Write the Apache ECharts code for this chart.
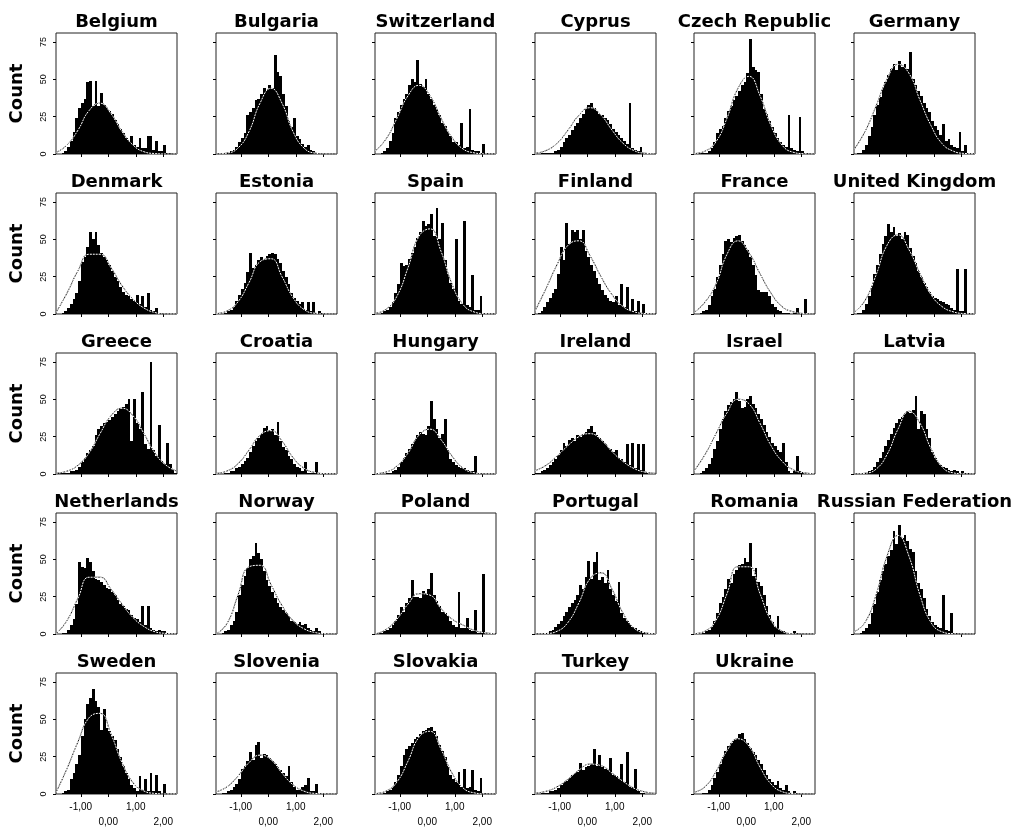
<!DOCTYPE html>
<html><head><meta charset="utf-8">
<script src="https://cdn.jsdelivr.net/npm/echarts@6/dist/echarts.min.js"></script>
<style>html,body{margin:0;padding:0;background:#fff}#c{width:1026px;height:833px}</style>
</head><body><div id="c"></div>
<script>
// Panel titles, in reading order (6 per row)
const countries = ['Belgium','Bulgaria','Switzerland','Cyprus','Czech Republic','Germany',
  'Denmark','Estonia','Spain','Finland','France','United Kingdom',
  'Greece','Croatia','Hungary','Ireland','Israel','Latvia',
  'Netherlands','Norway','Poland','Portugal','Romania','Russian Federation',
  'Sweden','Slovenia','Slovakia','Turkey','Ukraine'];

// Histogram bins: lower edge of first bin and bin width (value units)
const binStart = -1.9;
const binWidth = 0.1;
const xMin = -1.9, xMax = 2.5;
const yMax = 81;
const xTicks = [-1, 0, 1, 2];
const yTicks = [0, 25, 50, 75];

// Counts per bin (44 bins from -1.9 to 2.5)
const belgium = [0,0,1,2,5,9,15,24,31,34, 37,48,49,32,49,32,41,33,31,29, 27,23,20,17,14,11,9,12,6,5, 11,4,4,12,12,3,9,2,2,6, 1,1,0,0];
const bulgaria = [0,0,0,1,1,2,3,5,8,11, 14,26,28,31,36,37,40,44,43,46, 44,66,55,52,40,32,22,18,24,12, 10,7,5,6,3,2,1,1,0,0, 0,0,0,0];
const switzerland = [0,0,1,2,4,9,14,24,28,33, 37,40,46,50,48,63,47,45,50,40, 37,33,30,26,21,19,15,12,8,8, 6,21,4,5,30,3,2,2,1,7, 1,0,0,0];
const cyprus = [0,0,1,1,1,1,1,2,3,5, 8,11,13,16,19,21,24,27,30,33, 34,31,29,27,26,24,23,20,17,15, 13,11,9,7,34,4,3,2,5,1, 1,0,0,0];
const czechRepublic = [0,1,1,1,1,2,4,8,14,17, 19,24,29,32,36,39,42,46,48,54, 77,58,56,55,40,30,27,22,18,14, 11,8,6,5,26,4,3,2,25,2, 1,1,0,0];
const germany = [0,1,1,3,6,12,18,26,33,38, 44,48,53,57,60,56,62,58,60,57, 68,50,46,42,39,34,31,28,22,19, 16,13,20,9,10,6,5,4,15,2, 6,1,0,0];
const denmark = [0,0,1,2,4,7,10,14,22,35, 38,45,55,50,55,46,41,38,36,33, 29,25,22,18,15,13,12,10,9,13, 7,12,5,14,3,2,4,1,1,0, 0,0,0,0];
const estonia = [0,0,0,1,2,3,5,9,13,17, 21,28,41,31,33,36,38,36,39,40, 41,40,37,34,29,25,20,14,11,9, 7,8,3,8,2,8,1,2,1,0, 0,0,0,0];
const spain = [0,0,1,2,3,5,8,14,20,34, 32,33,37,41,45,51,55,62,59,60, 67,52,71,50,61,36,27,21,17,50, 9,7,62,6,5,26,3,3,12,1, 0,0,0,0];
const finland = [0,1,2,5,8,11,14,17,27,45, 36,61,47,56,55,56,50,56,42,38, 33,29,24,20,16,13,11,9,8,12, 6,20,5,18,3,10,2,9,1,7, 0,0,0,0];
const france = [0,0,1,2,3,6,12,17,25,33, 40,49,50,48,51,52,53,49,46,43, 38,33,26,16,15,15,15,12,7,5, 3,2,1,1,1,0,1,4,1,0, 10,0,0,0];
const unitedKingdom = [0,1,1,3,7,12,19,27,33,40, 47,52,60,55,58,52,54,50,55,53, 44,39,34,29,25,21,18,15,12,11, 10,9,8,7,6,4,3,30,2,2, 30,1,0,0];
const greece = [1,1,1,1,1,2,2,3,5,8, 11,14,16,19,26,30,32,34,35,36, 38,40,42,44,45,47,50,22,50,34, 30,55,20,17,75,16,12,33,9,7, 21,7,3,1];
const croatia = [0,0,0,1,1,2,2,4,5,7, 9,11,15,19,22,24,27,31,32,29, 30,26,35,22,18,16,12,10,7,5, 4,2,8,1,1,1,8,0,1,0, 0,0,0,0];
const hungary = [0,0,0,0,1,1,2,3,5,8, 11,14,17,20,23,26,28,27,26,32, 49,37,30,24,27,37,16,10,8,6, 5,4,4,3,2,2,12,1,1,0, 0,0,0,0];
const ireland = [1,1,2,3,4,6,8,10,13,16, 21,19,23,24,22,26,25,27,28,30, 32,28,26,24,22,20,18,17,15,16, 11,10,8,20,6,21,4,20,3,20, 1,0,0,0];
const israel = [0,0,1,2,4,7,11,17,22,30, 37,42,46,48,50,55,49,44,45,50, 52,47,44,40,37,33,28,25,21,19, 16,15,21,8,2,1,2,12,2,1, 0,0,0,0];
const latvia = [0,0,0,1,1,2,3,5,8,11, 15,19,23,27,31,34,37,38,40,42, 41,43,52,30,42,40,30,24,15,11, 8,6,5,4,3,2,3,2,1,2, 1,1,0,0];
const netherlands = [0,0,1,1,3,6,10,20,48,45, 44,51,48,42,37,36,35,33,31,30, 28,26,23,20,19,17,16,13,11,10, 8,19,6,19,4,3,2,3,2,2, 1,0,0,0];
const norway = [0,0,1,2,3,6,9,15,26,33, 39,44,50,52,61,54,50,42,36,32, 28,24,21,18,16,14,12,9,8,7, 8,6,7,4,3,2,4,2,1,0, 0,0,0,0];
const poland = [0,1,1,2,3,4,6,9,13,18, 15,21,24,36,25,25,24,29,27,30, 41,26,22,19,15,14,12,9,6,5, 28,4,4,11,3,2,16,1,1,40, 0,0,0,0];
const portugal = [0,0,0,1,1,2,3,5,7,9, 12,15,18,21,23,26,33,30,38,49, 37,48,55,36,38,34,43,30,26,22, 35,14,11,9,7,5,4,3,2,1, 1,0,0,0];
const romania = [0,0,0,1,2,3,5,9,14,21, 25,30,37,34,40,43,46,47,51,48, 61,39,44,35,32,26,19,13,8,5, 12,3,2,1,1,1,2,1,0,0, 0,0,0,0];
const russianFederation = [0,0,1,2,4,7,14,20,28,36, 42,47,52,56,69,60,73,64,66,62, 57,55,42,34,30,24,17,12,8,6, 5,4,26,3,2,14,1,1,0,0, 0,0,0,0];
const sweden = [0,0,1,2,3,10,14,20,26,39, 50,60,64,70,62,58,43,57,44,42, 39,36,30,25,19,14,10,6,4,2, 12,3,10,2,14,2,13,2,1,7, 0,0,0,0];
const slovenia = [0,0,1,1,2,3,5,7,10,17, 19,22,28,23,33,35,24,27,26,24, 22,20,18,16,14,12,19,8,5,3, 3,5,6,11,2,2,7,1,1,0, 0,0,0,0];
const slovakia = [0,0,0,1,2,3,5,8,13,19, 26,30,32,34,37,38,40,42,43,44, 45,42,39,33,29,25,19,13,10,8, 15,5,17,4,5,16,3,2,11,1, 1,0,0,0];
const turkey = [0,0,1,1,1,2,2,3,4,6, 8,9,11,13,14,15,21,16,18,19, 20,30,19,26,18,17,16,24,13,12, 10,20,8,28,5,4,17,2,1,1, 0,0,0,0];
const ukraine = [0,0,0,1,1,3,6,11,15,20, 25,29,32,34,36,37,40,41,37,34, 31,28,26,23,20,16,13,10,8,6, 9,4,3,6,2,1,2,1,0,0, 0,0,0,0];

// Normal curve overlay, read at these x positions
const curveX = [-1.9,-1.5,-1.1,-0.7,-0.3,0.1,0.5,0.9,1.3,1.7,2.1,2.5];
const curveBelgium = [1,6,16,29,34,27,15,6,1.5,0.3,0,0];
const curveBulgaria = [0,0.6,4,15,34,44,34,15,4,0.6,0,0];
const curveSwitzerland = [2,10,24,39,46,39,24,11,3.4,0.8,0.1,0];
const curveCyprus = [0.5,2.3,7.2,16,26,31,26,16,7.2,2.3,0.5,0.1];
const curveCzechRepublic = [0.3,1.9,8.2,24,44,52,39,19,6,1.2,0.2,0];
const curveGermany = [3,15,32,50,60,54,36,19,7,2,0.4,0.1];
const curveDenmark = [1,14,29,40,40,31,19,10,4,1,0,0];
const curveEstonia = [0.3,2,8.2,21,35,37,25,11,3,0.5,0,0];
const curveSpain = [0.5,3.1,12,31,52,57,42,20,6.4,1.4,0.2,0];
const curveFinland = [2,17,33,46,49,39,25,13,5,1.5,0.3,0];
const curveFrance = [1,8,20,40,49,41,27,14,5,1.5,0.3,0];
const curveUnitedKingdom = [1,9,26,46,53,43,27,13,5,1.5,0.3,0];
const curveGreece = [0.5,1.9,5.9,14,27,39,44,39,27,14,5.9,1.9];
const curveCroatia = [0.4,2,6.9,16,26,29,22,11,3.9,1,0.2,0];
const curveHungary = [0.2,1.3,5.4,14,26,30,23,12,3.9,0.9,0.1,0];
const curveIreland = [2.2,5.8,12,19,25,27,23,15,8.4,3.7,1.3,0.4];
const curveIsrael = [2,13,27,41,50,47,34,19,8.6,2.9,0.8,0.2];
const curveLatvia = [0,0.5,3.2,13,30,42,34,17,4.8,0.8,0.1,0];
const curveNetherlands = [0,9,24,38,38,30,20,11,5,1.5,0.4,0];
const curveNorway = [0,7,26,45,46,33,19,9,3.5,1,0.2,0];
const curvePoland = [0,3,10,20,27,26,17,10,6,2.5,0.8,0.2];
const curvePortugal = [0,0.3,1.8,7.8,21,37,41,30,14,4,0.8,0.1];
const curveRomania = [0.2,1.9,9.2,27,45,45,27,9.2,1.9,0.2,0,0];
const curveRussianFederation = [1.5,7.7,26,52,66,52,26,7.7,1.5,0.2,0,0];
const curveSweden = [1,17,35,51,54,40,21,7.6,2,0.4,0,0];
const curveSlovenia = [1.4,4.8,12,21,26,23,14,6.2,1.9,0.4,0.1,0];
const curveSlovakia = [0.3,1.9,8.1,22,38,42,30,14,4.1,0.8,0.1,0];
const curveTurkey = [0.5,1.8,4.8,9.9,16,20,19,14,8.5,3.9,1.4,0.4];
const curveUkraine = [1.1,4.8,15,29,37,32,18,6.7,1.6,0.3,0,0];

const histograms = [belgium,bulgaria,switzerland,cyprus,czechRepublic,germany,
  denmark,estonia,spain,finland,france,unitedKingdom,
  greece,croatia,hungary,ireland,israel,latvia,
  netherlands,norway,poland,portugal,romania,russianFederation,
  sweden,slovenia,slovakia,turkey,ukraine];
const curves = [curveBelgium,curveBulgaria,curveSwitzerland,curveCyprus,curveCzechRepublic,curveGermany,
  curveDenmark,curveEstonia,curveSpain,curveFinland,curveFrance,curveUnitedKingdom,
  curveGreece,curveCroatia,curveHungary,curveIreland,curveIsrael,curveLatvia,
  curveNetherlands,curveNorway,curvePoland,curvePortugal,curveRomania,curveRussianFederation,
  curveSweden,curveSlovenia,curveSlovakia,curveTurkey,curveUkraine];

// ---- layout (presentation only) ----
const colLeft = [56, 216, 375, 535, 694, 854];
const rowTop = [33, 193, 353, 513, 673];
const boxW = 121, boxH = 121;
const FONT = 'DejaVu Sans';

const grid = [], xAxis = [], yAxis = [], series = [], title = [];

function renderBar(params, api) {
  const x0 = api.value(0), x1 = api.value(1), c = api.value(2);
  if (!c) return null;
  const p0 = api.coord([x0, c]);
  const p1 = api.coord([x1, 0]);
  const left = Math.round(p0[0]), right = Math.round(p1[0]);
  const top = Math.round(p0[1]), bottom = Math.round(p1[1]);
  return {
    type: 'rect',
    shape: { x: left, y: top, width: right - left, height: bottom - top },
    style: { fill: '#000' }
  };
}

countries.forEach((name, i) => {
  const r = Math.floor(i / 6), c = i % 6;
  const bottomRow = r === 4;
  const firstCol = c === 0;
  grid.push({ left: colLeft[c], top: rowTop[r], width: boxW, height: boxH,
    show: true, borderColor: '#222', borderWidth: 1, backgroundColor: 'transparent',
    containLabel: false, outerBoundsMode: 'none' });
  title.push({ text: name, left: colLeft[c] + boxW / 2, top: rowTop[r] - 20, textAlign: 'center', padding: 0,
    textStyle: { fontFamily: FONT, fontWeight: 'bold', fontSize: 18, color: '#000' } });
  xAxis.push({ gridIndex: i, type: 'value', min: xMin, max: xMax, position: 'bottom',
    axisLine: { show: false, onZero: false }, splitLine: { show: false },
    axisTick: { show: true, customValues: xTicks, length: 3, lineStyle: { color: '#000' } },
    axisLabel: { show: bottomRow, customValues: xTicks, margin: 6, color: '#000',
      fontFamily: 'Liberation Sans', fontSize: 10, lineHeight: 15,
      formatter: v => (Math.abs(v) % 2 === 1 ? '' : '\n') + v.toFixed(2).replace('.', ',') } });
  yAxis.push({ gridIndex: i, type: 'value', min: 0, max: yMax, position: 'left',
    axisLine: { show: false, onZero: false }, splitLine: { show: false },
    axisTick: { show: true, customValues: yTicks, length: 3, lineStyle: { color: '#000' } },
    axisLabel: { show: firstCol, customValues: yTicks, rotate: 90, margin: 8, color: '#000',
      fontFamily: 'Liberation Sans', fontSize: 9,
      formatter: v => (yTicks.indexOf(v) >= 0 ? String(v) : '') },
    name: firstCol ? 'Count' : '', nameLocation: 'middle', nameGap: 30,
    nameTextStyle: { fontFamily: FONT, fontWeight: 'bold', fontSize: 18, color: '#000' } });
  const line = curveX.map((x, k) => [x, curves[i][k]]);
  series.push({ type: 'line', xAxisIndex: i, yAxisIndex: i, data: line, smooth: true,
    showSymbol: false, silent: true, z: 1, lineStyle: { color: '#000', width: 1 } });
  series.push({ type: 'custom', xAxisIndex: i, yAxisIndex: i, z: 2, silent: true,
    renderItem: renderBar, encode: { x: [0, 1], y: 2 },
    data: histograms[i].map((v, k) => [binStart + k * binWidth, binStart + (k + 1) * binWidth, v]) });
  series.push({ type: 'line', xAxisIndex: i, yAxisIndex: i, data: line, smooth: true,
    showSymbol: false, silent: true, z: 3, lineStyle: { color: '#fff', width: 1, type: [2, 1] } });
});

const chart = echarts.init(document.getElementById('c'), null, { renderer: 'canvas' });
chart.setOption({ animation: false, backgroundColor: '#fff', title, grid, xAxis, yAxis, series });
</script></body></html>
